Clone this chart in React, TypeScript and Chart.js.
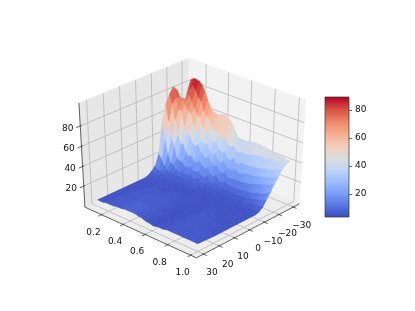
import React, { useEffect, useRef } from "react";
import { Chart, registerables } from "chart.js";

Chart.register(...registerables);

const xValues = [0.1,0.125,0.15,0.175,0.2,0.225,0.25,0.275,0.3,0.325,0.35,0.375,0.4,0.425,0.45,0.475,0.5,0.525,0.55,0.575,0.6,0.625,0.65,0.675,0.7,0.725,0.75,0.775,0.8,0.825,0.85,0.875,0.9,0.925,0.95,0.975,1.0];
const yValues = [-30,-27.5,-25,-22.5,-20,-17.5,-15,-12.5,-10,-7.5,-5,-2.5,0,5,10,20,30];
const zm30 = [78,87,89,89,88,86,80,73,67,63,62,62,63,64,64,61,58,52,47,46,46,46,47,47,48,48,48,47,47,46,46,45,45,44,44,43,43];
const zm27 = [64,72,80,85,81,75,72,64,59,58,51,48,49,44,43,44,39,38,40,36,35,37,36,37,38,39,39,40,40,40,41,41,41,41,41,41,41];
const zm25 = [66,66,71,78,72,66,60,59,50,46,48,41,38,41,34,31,34,28,27,31,26,26,30,28,29,29,30,30,30,31,32,33,34,35,36,37,38];
const zm22 = [80,74,74,69,64,62,52,47,48,39,36,38,31,29,32,25,24,27,22,21,21,23,21,21,22,23,23,24,24,25,26,27,28,29,30,31,32];
const zm20 = [85,75,65,64,50,43,44,36,34,37,30,28,26,29,23,21,23,18,17,20,15,15,16,16,16,16,17,17,18,19,20,21,22,23,24,26,27];
const zm17 = [79,71,56,44,34,34,27,24,26,21,21,24,20,18,21,15,13,16,11,10,12,10,10,10,10,10,11,11,12,12,13,14,15,16,17,19,21];
const zm15 = [71,55,41,32,21,18,19,15,15,17,14,14,16,13,12,14,10,9,9,10,7,7,8,7,7,7,7,8,8,8,9,9,10,11,12,13,15];
const zm12 = [54,40,25,17,15,11,10,12,10,10,12,9,9,11,8,8,9,7,7,7,6,6,6,6,6,6,6,6,6,6,7,7,7,8,8,9,9];
const zm10 = [24,20,14,11,9,8,8,8,8,8,7,7,7,7,7,7,6,6,6,6,5,5,5,5,5,5,5,5,5,5,5,5,5,5,6,6,6];
const zm7 = [13,10,9,8,7,7,7,6,6,6,6,6,6,6,6,5,5,5,5,5,5,5,5,5,5,5,5,5,5,5,5,5,5,5,5,5,5];
const zm5 = [9,7,7,6,6,6,6,6,6,5,5,5,5,5,5,5,5,5,5,5,5,5,5,5,5,5,5,5,5,5,5,5,5,5,5,5,5];
const zm2 = [6,6,5,6,5,5,6,5,5,5,5,5,5,5,5,5,5,5,5,5,5,5,5,5,5,5,5,5,5,5,5,5,5,5,5,5,5];
const z0 = [5,5,5,5,5,5,5,5,5,5,5,5,5,5,5,5,5,5,5,5,5,5,5,5,5,5,5,5,5,5,5,5,5,5,5,5,5];
const zp5 = [5,5,5,5,5,5,6,6,5,5,5,6,6,6,6,5,5,5,5,5,5,5,5,5,5,5,6,6,5,5,5,5,5,5,5,5,5];
const zp10 = [5,5,5,5,5,6,6,6,6,6,6,6,6,6,6,6,6,5,5,5,4,4,5,5,5,5,6,6,6,6,6,5,5,5,5,5,5];
const zp20 = [5,5,5,5,6,6,6,6,6,7,7,7,7,7,7,6,6,6,5,5,4,4,5,5,5,6,6,6,6,6,6,6,6,6,5,5,5];
const zp30 = [5,5,5,6,6,6,6,7,7,7,8,8,8,8,8,7,7,6,5,5,4,4,5,5,5,6,6,6,6,6,6,6,6,6,6,6,6];
const zRows = [zm30,zm27,zm25,zm22,zm20,zm17,zm15,zm12,zm10,zm7,zm5,zm2,z0,zp5,zp10,zp20,zp30];

const xTicks = [0.2,0.4,0.6,0.8,1.0];
const yTicks = [-30,-20,-10,0,10,20,30];
const zTicks = [20,40,60,80];
const colorbarTicks = [20,40,60,80];

const Z_MIN = 3.6, Z_MAX = 89.3;
const coolwarm = [[59,76,192],[89,119,227],[123,159,249],[158,190,255],[192,212,245],[221,220,220],[242,203,183],[247,172,142],[238,132,104],[214,82,68],[180,4,38]];

const FONT = "DejaVu Sans";
const xLim = [0.043, 1.05], yLim = [34.5, -34.5], zLim = [-2, 102];
const ELEV = (33 * Math.PI) / 180, AZIM = (-47 * Math.PI) / 180, DIST = 10;
const SX = 156, TX = 192.5, SY = 124, TY = 154.8;

function color(z: number) {
  const t = Math.max(0, Math.min(1, (z - Z_MIN) / (Z_MAX - Z_MIN))) * 10;
  const i = Math.min(9, Math.floor(t));
  const f = t - i;
  const c = coolwarm[i].map((v, k) => Math.round(v + (coolwarm[i + 1][k] - v) * f));
  return `rgb(${c[0]},${c[1]},${c[2]})`;
}

const n = [Math.cos(ELEV) * Math.cos(AZIM), Math.cos(ELEV) * Math.sin(AZIM), Math.sin(ELEV)];
const uLen = Math.hypot(n[0], n[1]);
const u = [-n[1] / uLen, n[0] / uLen, 0];
const v = [n[1] * u[2] - n[2] * u[1], n[2] * u[0] - n[0] * u[2], n[0] * u[1] - n[1] * u[0]];

function cube(a: number, b: number, c: number) {
  const d = [a - 0.5, b - 0.5, c - 0.5];
  const xv = d[0] * u[0] + d[1] * u[1] + d[2] * u[2];
  const yv = d[0] * v[0] + d[1] * v[1] + d[2] * v[2];
  const zv = d[0] * n[0] + d[1] * n[1] + d[2] * n[2];
  const f = DIST / (DIST - zv);
  return { x: TX + SX * xv * f, y: TY - SY * yv * f, depth: zv };
}
const A = (x: number) => (x - xLim[0]) / (xLim[1] - xLim[0]);
const B = (y: number) => (y - yLim[0]) / (yLim[1] - yLim[0]);
const C = (z: number) => (z - zLim[0]) / (zLim[1] - zLim[0]);
const world = (x: number, y: number, z: number) => cube(A(x), B(y), C(z));

function App() {
  const mainRef = useRef<HTMLCanvasElement>(null);
  const barRef = useRef<HTMLCanvasElement>(null);
  useEffect(() => {
    document.body.style.margin = "0";
    const back: any[] = [];
    const shape = (pts: any[], fill: string) =>
      back.push({ data: [...pts, pts[0]].map((p) => ({ x: p.x, y: p.y })), showLine: true, fill: "shape", backgroundColor: fill, borderColor: fill, borderWidth: 0.6, pointRadius: 0, tension: 0 });
    const line = (p: any, q: any, col: string, w: number) =>
      back.push({ data: [{ x: p.x, y: p.y }, { x: q.x, y: q.y }], showLine: true, fill: false, borderColor: col, borderWidth: w, pointRadius: 0, tension: 0 });

    // panes
    shape([cube(0, 0, 0), cube(0, 1, 0), cube(0, 1, 1), cube(0, 0, 1)], "#e7e7e7");
    shape([cube(0, 1, 0), cube(1, 1, 0), cube(1, 1, 1), cube(0, 1, 1)], "#f2f2f2");
    shape([cube(0, 0, 0), cube(1, 0, 0), cube(1, 1, 0), cube(0, 1, 0)], "#ededed");
    // grids
    const GRID = "#b8b8b8", GW = 0.8;
    xTicks.forEach((t) => {
      const a = A(t);
      line(cube(a, 0, 0), cube(a, 1, 0), GRID, GW);
      line(cube(a, 1, 0), cube(a, 1, 1), GRID, GW);
    });
    yTicks.forEach((t) => {
      const b = B(t);
      line(cube(0, b, 0), cube(1, b, 0), GRID, GW);
      line(cube(0, b, 0), cube(0, b, 1), GRID, GW);
    });
    zTicks.forEach((t) => {
      const c = C(t);
      line(cube(0, 0, c), cube(0, 1, c), GRID, GW);
      line(cube(0, 1, c), cube(1, 1, c), GRID, GW);
    });
    // axes
    const AX = "#222", AW = 0.7;
    line(cube(0, 0, 0), cube(1, 0, 0), AX, AW);
    line(cube(1, 0, 0), cube(1, 1, 0), AX, AW);
    line(cube(0, 0, 0), cube(0, 0, 1), AX, AW);
    xTicks.forEach((t) => line(cube(A(t), 0.012, 0), cube(A(t), -0.028, 0), AX, AW));
    yTicks.forEach((t) => line(cube(0.988, B(t), 0), cube(1.028, B(t), 0), AX, AW));
    zTicks.forEach((t) => line(cube(0, -0.035, C(t)), cube(0, 0.012, C(t)), AX, AW));

    // surface
    const quads: any[] = [];
    for (let j = 0; j < yValues.length - 1; j++) {
      for (let i = 0; i < xValues.length - 1; i++) {
        const pts = [
          world(xValues[i], yValues[j], zRows[j][i]),
          world(xValues[i + 1], yValues[j], zRows[j][i + 1]),
          world(xValues[i + 1], yValues[j + 1], zRows[j + 1][i + 1]),
          world(xValues[i], yValues[j + 1], zRows[j + 1][i]),
        ];
        const mean = (zRows[j][i] + zRows[j][i + 1] + zRows[j + 1][i + 1] + zRows[j + 1][i]) / 4;
        quads.push({ pts, mean, depth: (pts[0].depth + pts[1].depth + pts[2].depth + pts[3].depth) / 4 });
      }
    }
    quads.sort((p, q) => p.depth - q.depth);
    quads.forEach((q) => shape(q.pts, color(q.mean)));

    const labels = {
      id: "labels3d",
      afterDraw(chart: any) {
        const ctx = chart.ctx;
        ctx.save();
        ctx.font = `9px "${FONT}"`;
        ctx.fillStyle = "#111";
        ctx.textAlign = "center";
        ctx.textBaseline = "middle";
        const minus = (s: string) => s.replace("-", "\u2212");
        xTicks.forEach((t) => {
          const p = cube(A(t), 0, 0);
          ctx.fillText(t.toFixed(1), p.x - 8, p.y + 17.5);
        });
        yTicks.forEach((t) => {
          const p = cube(1, B(t), 0);
          ctx.fillText(minus(String(t)), p.x + 8.5, p.y + 19);
        });
        zTicks.forEach((t) => {
          const p = cube(0, 0, C(t));
          ctx.fillText(String(t), p.x - 12.5, p.y + 2.5);
        });
        ctx.restore();
      },
    };

    const main = new Chart(mainRef.current!, {
      type: "scatter",
      data: { datasets: back.slice().reverse() },
      options: {
        animation: false,
        responsive: false,
        layout: { padding: 0 },
        events: [],
        scales: {
          x: { type: "linear", min: 0, max: 415, display: false },
          y: { type: "linear", min: 0, max: 311, reverse: true, display: false },
        },
        plugins: { legend: { display: false }, tooltip: { enabled: false }, filler: { drawTime: "beforeDatasetDraw" } },
      } as any,
      plugins: [labels],
    });

    const levels: any[] = [];
    const STEPS = 128;
    for (let i = 0; i < STEPS; i++) {
      const lo = Z_MIN + ((Z_MAX - Z_MIN) * i) / STEPS;
      const hi = Z_MIN + ((Z_MAX - Z_MIN) * (i + 1.5)) / STEPS;
      levels.push({ data: [[lo, Math.min(hi, Z_MAX)]], backgroundColor: color(lo + 0.3), borderWidth: 0, barPercentage: 1, categoryPercentage: 1, grouped: false, order: STEPS - i });
    }
    const frame = {
      id: "frame",
      afterDraw(chart: any) {
        const { left, right, top, bottom } = chart.chartArea;
        chart.ctx.save();
        chart.ctx.strokeStyle = "#333";
        chart.ctx.lineWidth = 0.7;
        chart.ctx.strokeRect(left, top, right - left, bottom - top);
        chart.ctx.restore();
      },
    };
    const bar = new Chart(barRef.current!, {
      type: "bar",
      data: { labels: ["z"], datasets: levels },
      options: {
        animation: false,
        responsive: false,
        events: [],
        layout: { padding: { left: 25, top: 97, bottom: 94, right: 0 } },
        scales: {
          x: { display: false },
          y: {
            position: "right",
            min: Z_MIN,
            max: Z_MAX,
            afterBuildTicks(s: any) { s.ticks = colorbarTicks.map((value) => ({ value })); },
            afterFit(s: any) { s.width = 66; },
            grid: { drawOnChartArea: false, tickLength: 3, tickColor: "#222", tickWidth: 0.7 },
            border: { display: false },
            ticks: { color: "#111", padding: 3, font: { family: FONT, size: 9 } },
          },
        },
        plugins: { legend: { display: false }, tooltip: { enabled: false } },
      } as any,
      plugins: [frame],
    });
    return () => { main.destroy(); bar.destroy(); };
  }, []);
  return (
    <div style={{ position: "fixed", left: 0, top: 0, width: 415, height: 311, background: "#fff" }}>
      <canvas ref={mainRef} width={415} height={311} style={{ position: "absolute", left: 0, top: 0 }} />
      <canvas ref={barRef} width={115} height={311} style={{ position: "absolute", left: 300, top: 0 }} />
    </div>
  );
}
export default App;
